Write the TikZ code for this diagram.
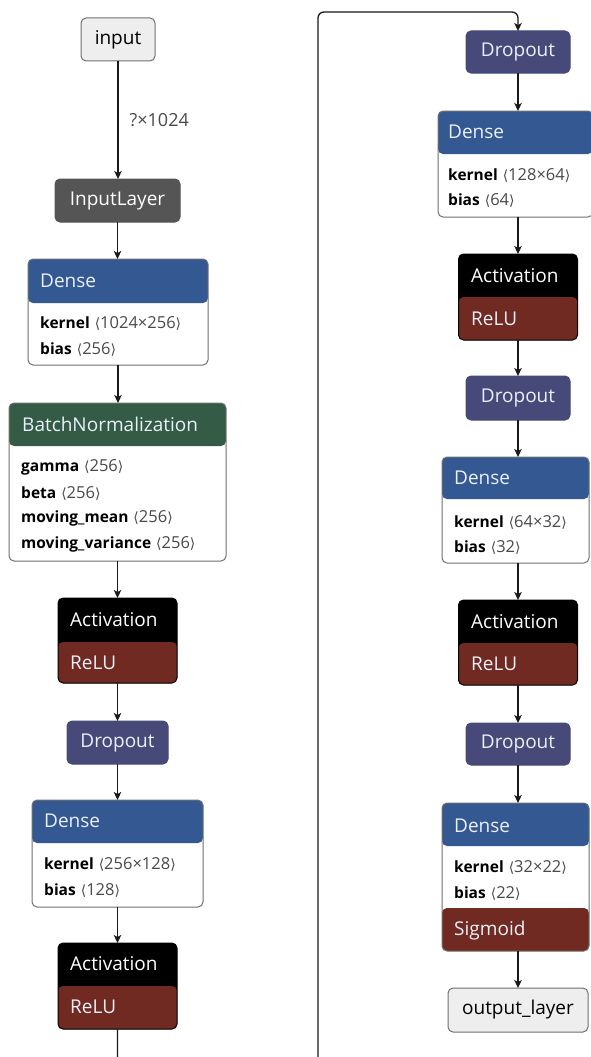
\documentclass[tikz,border=0pt]{standalone}
\usepackage{fontspec}
\setmainfont{Open Sans}
\newfontfamily\brkfont{DejaVu Sans}
\usetikzlibrary{arrows.meta}
\definecolor{densecol}{HTML}{345891}
\definecolor{bncol}{HTML}{335B46}
\definecolor{dropcol}{HTML}{474A78}
\definecolor{relucol}{HTML}{712A22}
\definecolor{ilcol}{HTML}{555555}
\definecolor{iofill}{HTML}{EEEEEE}
\definecolor{boxline}{HTML}{707070}
\definecolor{lineblack}{HTML}{1A1A1A}
\definecolor{paramgray}{HTML}{4A4A4A}
\definecolor{titlewhite}{HTML}{EAF0F8}
\newcommand{\pval}[1]{\textcolor{paramgray}{{\brkfont\fontsize{14}{16}\selectfont ⟨}{\fontsize{16.5}{18}\selectfont #1}{\brkfont\fontsize{14}{16}\selectfont ⟩}}}
\newcommand{\prow}[2]{{\bfseries #1}\hspace{5pt}\pval{#2}}
\tikzset{
  box/.style={rectangle, rounded corners=5pt, draw=boxline, line width=1pt, inner sep=0pt, outer sep=0pt},
  hdr/.style 2 args={path picture={\fill[#1] (path picture bounding box.north west) rectangle ([yshift=-#2pt]path picture bounding box.north east);}},
  ftr/.style 2 args={path picture={\fill[#1] (path picture bounding box.south west) rectangle ([yshift=#2pt]path picture bounding box.south east);}},
  hdrftr/.style n args={4}{path picture={\fill[#1] (path picture bounding box.north west) rectangle ([yshift=-#2pt]path picture bounding box.north east);
      \fill[#3] (path picture bounding box.south west) rectangle ([yshift=#4pt]path picture bounding box.south east);}},
  ttl/.style={anchor=west, inner sep=0pt, text=titlewhite, font=\fontsize{19}{22}\selectfont},
  ctr/.style={inner sep=0pt, font=\fontsize{19}{22}\selectfont},
  prm/.style={anchor=west, inner sep=0pt, font=\fontsize{15.5}{18}\selectfont},
  arr/.style={line width=1.3pt, draw=lineblack, -{Stealth[length=8pt,width=7.5pt,inset=2pt]}},
  elabel/.style={inner sep=0pt, text=paramgray, font=\fontsize{18}{20}\selectfont},
}
\begin{document}
\begin{tikzpicture}[x=1pt,y=-1pt]
\useasboundingbox (0,0) rectangle (590,1057);
\fill[white] (0,0) rectangle (590,1057);

% ---------- left column ----------
\node[box, fill=iofill, minimum width=74pt, minimum height=43pt] (in) at (118,39.5) {};
\node[ctr] at (in) {input};

\node[box, fill=ilcol, draw=ilcol, minimum width=125pt, minimum height=43pt] (il) at (117.5,200.5) {};
\node[ctr, text=white] at (il) {InputLayer};

\node[box, fill=white, minimum width=180pt, minimum height=106pt, hdr={densecol}{44}] (d1) at (118,312) {};
\node[ttl] at (40,281) {Dense};
\node[prm] at (40,323) {\prow{kernel}{1024×256}};
\node[prm] at (40,349) {\prow{bias}{256}};

\node[box, fill=white, minimum width=217pt, minimum height=158pt, hdr={bncol}{43}] (bn) at (117.5,482) {};
\node[ttl] at (22,424) {BatchNormalization};
\node[prm] at (21,467) {\prow{gamma}{256}};
\node[prm] at (21,493) {\prow{beta}{256}};
\node[prm] at (21,518) {\prow{moving\_mean}{256}};
\node[prm] at (21,544) {\prow{moving\_variance}{256}};

\node[box, draw=black, fill=black, minimum width=119pt, minimum height=85pt, ftr={relucol}{41}] (a1) at (117.5,640.5) {};
\node[ttl, text=white] at (70,620) {Activation};
\node[ttl] at (70,663) {ReLU};

\node[box, fill=dropcol, draw=dropcol, minimum width=101pt, minimum height=43pt] (dr1) at (117.5,742.5) {};
\node[ctr, text=titlewhite] at (dr1) {Dropout};

\node[box, fill=white, minimum width=171pt, minimum height=107pt, hdr={densecol}{43}] (d2) at (117.5,853.5) {};
\node[ttl] at (44,821) {Dense};
\node[prm] at (44,864) {\prow{kernel}{256×128}};
\node[prm] at (44,890) {\prow{bias}{128}};

\node[box, draw=black, fill=black, minimum width=119pt, minimum height=86pt, ftr={relucol}{43}] (a2) at (117.5,986) {};
\node[ttl, text=white] at (70,964) {Activation};
\node[ttl] at (70,1007) {ReLU};

% ---------- right column ----------
\node[box, fill=dropcol, draw=dropcol, minimum width=104pt, minimum height=42pt] (dr3) at (518,52) {};
\node[ctr, text=titlewhite] at (dr3) {Dropout};

\node[box, fill=white, minimum width=155pt, minimum height=106pt, hdr={densecol}{43}] (d3) at (515.5,164) {};
\node[ttl] at (448,132) {Dense};
\node[prm] at (448,175) {\prow{kernel}{128×64}};
\node[prm] at (448,200) {\prow{bias}{64}};

\node[box, draw=black, fill=black, minimum width=119pt, minimum height=86pt, ftr={relucol}{43}] (a3) at (518,297) {};
\node[ttl, text=white] at (471,276) {Activation};
\node[ttl] at (471,319) {ReLU};

\node[box, fill=dropcol, draw=dropcol, minimum width=104pt, minimum height=44pt] (dr4) at (518,398) {};
\node[ctr, text=titlewhite] at (dr4) {Dropout};

\node[box, fill=white, minimum width=147pt, minimum height=106pt, hdr={densecol}{42}] (d4) at (515.5,510) {};
\node[ttl] at (454,478) {Dense};
\node[prm] at (454,522) {\prow{kernel}{64×32}};
\node[prm] at (454,547) {\prow{bias}{32}};

\node[box, draw=black, fill=black, minimum width=119pt, minimum height=85pt, ftr={relucol}{42}] (a4) at (518,642.5) {};
\node[ttl, text=white] at (471,622) {Activation};
\node[ttl] at (471,664) {ReLU};

\node[box, fill=dropcol, draw=dropcol, minimum width=104pt, minimum height=42pt] (dr5) at (518,744) {};
\node[ctr, text=titlewhite] at (dr5) {Dropout};

\node[box, fill=white, minimum width=147pt, minimum height=148pt, hdrftr={densecol}{43}{relucol}{43}] (d5) at (515.5,877) {};
\node[ttl] at (454,826) {Dense};
\node[prm] at (454,867) {\prow{kernel}{32×22}};
\node[prm] at (454,893) {\prow{bias}{22}};
\node[ttl] at (454,931) {Sigmoid};

\node[box, fill=iofill, minimum width=140pt, minimum height=44pt] (out) at (518,1010) {};
\node[ctr] at (out) {output\_layer};

% ---------- connectors ----------
\draw[arr] (in.south) -- node[elabel, right=11pt, pos=0.5] (lbl) {?×1024} (in.south |- il.north);
\draw[arr] (il.south) -- (il.south |- d1.north);
\draw[arr] (d1.south) -- (d1.south |- bn.north);
\draw[arr] (bn.south) -- (bn.south |- a1.north);
\draw[arr] (a1.south) -- (a1.south |- dr1.north);
\draw[arr] (dr1.south) -- (dr1.south |- d2.north);
\draw[arr] (d2.south) -- (d2.south |- a2.north);

\coordinate (low1) at (117.5,1085);
\coordinate (low2) at (318,1085);
\coordinate (top1) at (318,12);
\coordinate (top2) at (518,12);
\begin{scope}
\clip (0,0) rectangle (590,1057);
\draw[arr, rounded corners=6pt] (a2.south) -- (low1) -- (low2) -- (top1) -- (top2) -- (dr3.north);
\end{scope}

\draw[arr] (dr3.south) -- (dr3.south |- d3.north);
\draw[arr] (a3.north |- d3.south) -- (a3.north);
\draw[arr] (a3.south) -- (a3.south |- dr4.north);
\draw[arr] (dr4.south) -- (dr4.south |- d4.north);
\draw[arr] (a4.north |- d4.south) -- (a4.north);
\draw[arr] (a4.south) -- (a4.south |- dr5.north);
\draw[arr] (dr5.south) -- (dr5.south |- d5.north);
\draw[arr] (out.north |- d5.south) -- (out.north);
\end{tikzpicture}
\end{document}
